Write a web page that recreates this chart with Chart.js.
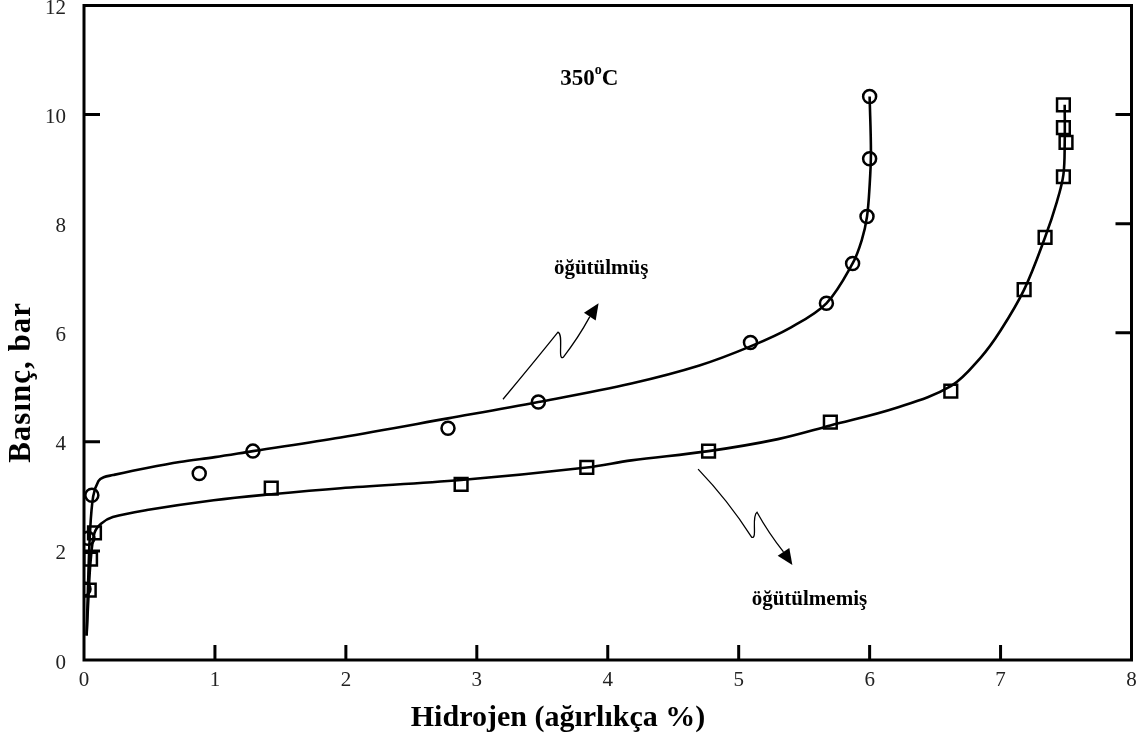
<!DOCTYPE html>
<html>
<head>
<meta charset="utf-8">
<script src="https://cdn.jsdelivr.net/npm/chart.js@4.4.1/dist/chart.umd.min.js"></script>
<style>
  html,body{margin:0;padding:0;background:#fff;overflow:hidden;}
  #wrap{width:1136px;height:745px;position:relative;overflow:hidden;}
  /* canvas is a little larger than the page so the frame sits where the original has it */
  #c{position:absolute;left:0;top:-6px;}
</style>
</head>
<body>
<div id="wrap"><canvas id="c" width="1143" height="751"></canvas></div>
<script>
// measured points (x = hidrojen %, y = basinc bar)
const milledX = [0.0, 0.03, 0.06, 0.88, 1.29, 2.78, 3.47, 5.09, 5.67, 5.87, 5.98, 6.0, 6.0];
const milledY = [1.3, 2.23, 3.02, 3.42, 3.83, 4.25, 4.73, 5.82, 6.54, 7.27, 8.13, 9.19, 10.33];
const unmilledX = [0.04, 0.05, 0.08, 1.43, 2.88, 3.84, 4.77, 5.70, 6.62, 7.18, 7.34, 7.48, 7.50, 7.48, 7.48];
const unmilledY = [1.28, 1.85, 2.33, 3.15, 3.22, 3.53, 3.83, 4.36, 4.93, 6.79, 7.75, 8.86, 9.49, 9.76, 10.18];

// fitted curves
const milledFitX = [0.02, 0.03, 0.045, 0.07, 0.11, 0.15, 0.22, 0.48, 0.73, 1.0, 1.29, 1.96, 2.78, 3.47, 4.18, 4.7, 5.09, 5.4, 5.67, 5.87, 5.94, 5.98, 6.0, 6.01, 6.0];
const milledFitY = [0.45, 1.3, 2.3, 3.0, 3.28, 3.35, 3.39, 3.52, 3.63, 3.72, 3.83, 4.08, 4.43, 4.73, 5.07, 5.4, 5.75, 6.1, 6.54, 7.27, 7.7, 8.13, 8.7, 9.3, 10.33];
const unmilledFitX = [0.02, 0.035, 0.05, 0.08, 0.13, 0.22, 0.48, 0.99, 1.43, 1.96, 2.88, 3.84, 4.18, 4.77, 5.3, 5.70, 6.2, 6.62, 6.85, 7.0, 7.18, 7.34, 7.43, 7.48, 7.49, 7.49];
const unmilledFitY = [0.45, 1.2, 1.8, 2.33, 2.5, 2.62, 2.75, 2.93, 3.04, 3.15, 3.30, 3.53, 3.66, 3.83, 4.05, 4.3, 4.62, 5.02, 5.55, 6.04, 6.79, 7.75, 8.4, 8.9, 9.5, 10.18];

const xTicks = [0, 1, 2, 3, 4, 5, 6, 7, 8];
const yTicks = [0, 2, 4, 6, 8, 10, 12];
const leftTickMarks = [10, 4, 2];
const rightTickMarks = [10, 8, 6];
const bottomTickMarks = [1, 2, 3, 4, 5, 6, 7];

// annotation arrows (data coords): start, peak, trough, tip
const arrowMilled = [[3.20, 4.78], [3.62, 6.01], [3.66, 5.55], [3.93, 6.54]];
const arrowUnmilled = [[4.69, 3.50], [5.10, 2.25], [5.14, 2.71], [5.41, 1.74]];
const labels = [
  {text: "öğütülmüş", x: 3.95, y: 7.18},
  {text: "öğütülmemiş", x: 5.54, y: 1.10}
];
const tempLabel = {x: 3.86, y: 10.66};
const xTitle = "Hidrojen (ağırlıkça %)";
const yTitle = "Basınç, bar";

const SERIF = "'Liberation Serif','Times New Roman',serif";

function pts(xs, ys){ return xs.map((x,i)=>({x:x, y:ys[i]})); }

const decor = {
  id: "decor",
  afterDraw(chart){
    const ctx = chart.ctx, a = chart.chartArea;
    const xs = chart.scales.x, ys = chart.scales.y;
    ctx.save();
    // frame
    ctx.strokeStyle = "#000";
    ctx.lineWidth = 3;
    ctx.strokeRect(a.left, a.top, a.right - a.left, a.bottom - a.top);
    // inward tick marks
    ctx.beginPath();
    leftTickMarks.forEach(v=>{ const p = ys.getPixelForValue(v); ctx.moveTo(a.left, p); ctx.lineTo(a.left + 16, p); });
    rightTickMarks.forEach(v=>{ const p = ys.getPixelForValue(v); ctx.moveTo(a.right, p); ctx.lineTo(a.right - 16, p); });
    bottomTickMarks.forEach(v=>{ const p = xs.getPixelForValue(v); ctx.moveTo(p, a.bottom); ctx.lineTo(p, a.bottom - 15); });
    ctx.stroke();

    // wavy arrows
    function arrow(pp){
      const P = pp.map(q=>[xs.getPixelForValue(q[0]), ys.getPixelForValue(q[1])]);
      ctx.lineWidth = 1.3;
      ctx.beginPath();
      ctx.moveTo(P[0][0], P[0][1]);
      const mx = (P[0][0]+P[1][0])/2, my = (P[0][1]+P[1][1])/2;
      ctx.quadraticCurveTo(mx + 3, my - 3, P[1][0], P[1][1]);
      ctx.bezierCurveTo(P[1][0] + 6, P[1][1] + 2, P[2][0] - 6, P[2][1] + 4, P[2][0], P[2][1]);
      const dx = P[3][0] - P[2][0], dy = P[3][1] - P[2][1];
      const len = Math.hypot(dx, dy), ux = dx/len, uy = dy/len;
      const bx = P[3][0] - ux*16, by = P[3][1] - uy*16;
      ctx.quadraticCurveTo((P[2][0]+bx)/2 - uy*2, (P[2][1]+by)/2 + ux*2, bx, by);
      ctx.stroke();
      ctx.beginPath();
      ctx.moveTo(P[3][0], P[3][1]);
      ctx.lineTo(bx - uy*7, by + ux*7);
      ctx.lineTo(bx + uy*7, by - ux*7);
      ctx.closePath();
      ctx.fillStyle = "#000";
      ctx.fill();
    }
    arrow(arrowMilled);
    arrow(arrowUnmilled);

    // labels
    ctx.fillStyle = "#000";
    ctx.textAlign = "center";
    ctx.textBaseline = "middle";
    ctx.font = "bold 21px " + SERIF;
    labels.forEach(l=>{ ctx.fillText(l.text, xs.getPixelForValue(l.x), ys.getPixelForValue(l.y)); });

    // axis titles (the original sets them off-centre)
    ctx.font = "bold 30px " + SERIF;
    ctx.fillText(xTitle, xs.getPixelForValue(3.62), a.bottom + 58);
    ctx.save();
    ctx.translate(a.left - 62, ys.getPixelForValue(5.09));
    ctx.rotate(-Math.PI/2);
    ctx.font = "bold 31px " + SERIF;
    ctx.letterSpacing = "1px";
    ctx.fillText(yTitle, 0, 0);
    ctx.restore();

    // 350 oC with superscript
    const tx = xs.getPixelForValue(tempLabel.x), ty = ys.getPixelForValue(tempLabel.y);
    ctx.textAlign = "left";
    ctx.font = "bold 23px " + SERIF;
    const w1 = ctx.measureText("350").width;
    ctx.font = "bold 14px " + SERIF;
    const w2 = ctx.measureText("o").width;
    ctx.font = "bold 23px " + SERIF;
    const w3 = ctx.measureText("C").width;
    let sx = tx - (w1 + w2 + w3)/2;
    ctx.fillText("350", sx, ty);
    ctx.font = "bold 14px " + SERIF;
    ctx.fillText("o", sx + w1, ty - 8);
    ctx.font = "bold 23px " + SERIF;
    ctx.fillText("C", sx + w1 + w2, ty);
    ctx.restore();
  }
};

new Chart(document.getElementById("c").getContext("2d"), {
  type: "scatter",
  data: {
    datasets: [
      { label: "milled fit", data: pts(milledFitX, milledFitY), showLine: true, borderColor: "#000", borderWidth: 2.6, pointRadius: 0, tension: 0.35, fill: false },
      { label: "unmilled fit", data: pts(unmilledFitX, unmilledFitY), showLine: true, borderColor: "#000", borderWidth: 2.6, pointRadius: 0, tension: 0.35, fill: false },
      { label: "öğütülmüş", data: pts(milledX, milledY), pointStyle: "circle", pointRadius: 6.5, pointBorderWidth: 2.5, pointBorderColor: "#000", pointBackgroundColor: "rgba(0,0,0,0)" },
      { label: "öğütülmemiş", data: pts(unmilledX, unmilledY), pointStyle: "rect", pointRadius: 9, pointBorderWidth: 2.5, pointBorderColor: "#000", pointBackgroundColor: "rgba(0,0,0,0)" }
    ]
  },
  options: {
    responsive: false,
    animation: false,
    layout: { padding: { top: 0, right: 0, left: 0, bottom: 0 } },
    plugins: { legend: { display: false }, tooltip: { enabled: false } },
    scales: {
      x: {
        type: "linear", min: 0, max: 8,
        afterBuildTicks: s => { s.ticks = xTicks.map(v=>({value:v})); },
        afterFit: s => { s.height = 85; s.paddingLeft = 0; s.paddingRight = 0; },
        grid: { display: false, drawTicks: false },
        border: { display: false },
        ticks: { color: "#222", padding: 8, font: { family: SERIF, size: 21 } }
      },
      y: {
        type: "linear", min: 0, max: 12,
        afterBuildTicks: s => { s.ticks = yTicks.map(v=>({value:v})); },
        afterFit: s => { s.width = 84; s.paddingTop = 0; s.paddingBottom = 0; },
        grid: { display: false, drawTicks: false },
        border: { display: false },
        ticks: { color: "#222", padding: 18, labelOffset: 3, font: { family: SERIF, size: 21 } }
      }
    }
  },
  plugins: [decor]
});
</script>
</body>
</html>
